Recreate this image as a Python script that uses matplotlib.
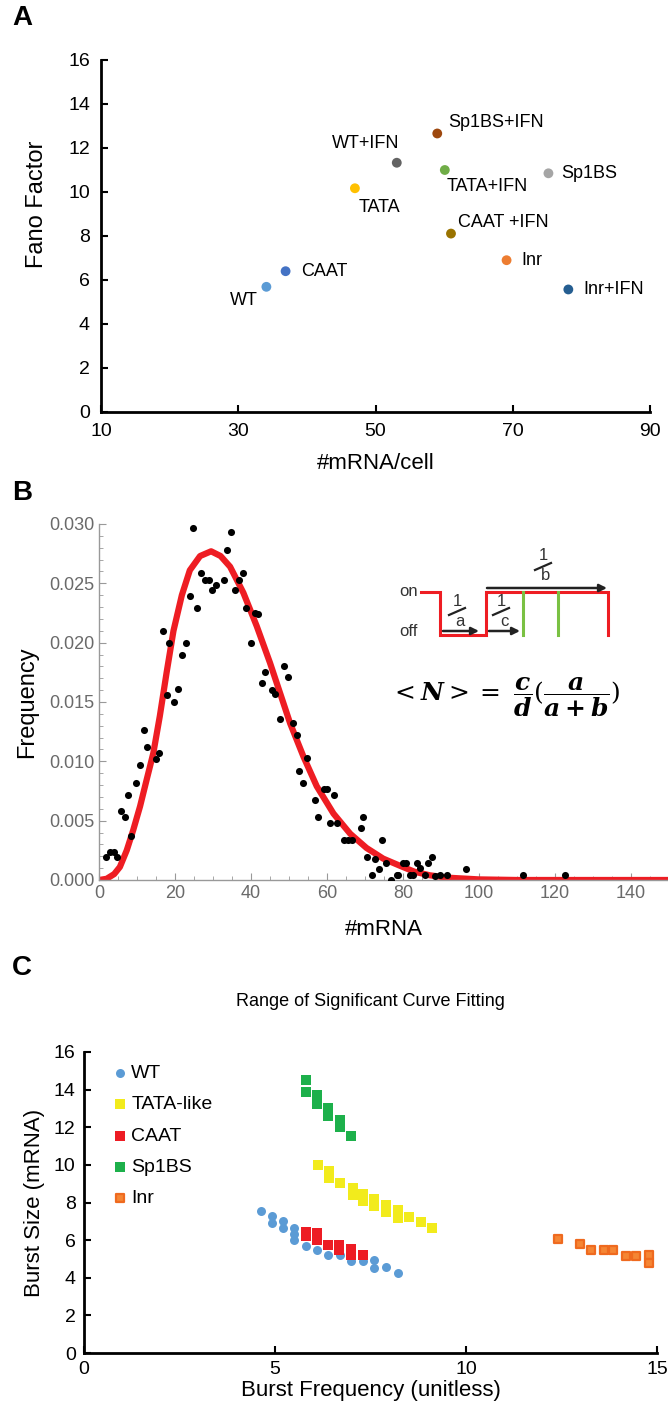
import numpy as np
import matplotlib
matplotlib.use('Agg')
import matplotlib.pyplot as plt

plt.rcParams['font.family'] = ['Liberation Sans', 'DejaVu Sans']
plt.rcParams['mathtext.fontset'] = 'custom'
plt.rcParams['mathtext.rm'] = 'DejaVu Serif'
plt.rcParams['mathtext.bf'] = 'DejaVu Serif:bold:italic'

# ---- panel A: mean vs Fano factor
a_names = ['WT', 'CAAT', 'TATA', 'WT+IFN', 'Sp1BS+IFN', 'TATA+IFN',
           'CAAT +IFN', 'Inr', 'Sp1BS', 'Inr+IFN']
a_mrna = [34.1, 36.9, 47.0, 53.1, 59.0, 60.1, 61.0, 69.1, 75.2, 78.1]
a_fano = [5.69, 6.40, 10.17, 11.33, 12.66, 11.0, 8.11, 6.9, 10.85, 5.57]
a_colors = ['#5B9BD5', '#4472C4', '#FFC000', '#636363', '#9E480E', '#70AD47',
            '#997300', '#ED7D31', '#A5A5A5', '#255E91']
# label offsets in points (dx, dy, ha)
a_offsets = [(-16, -10, 'center'), (11, 0, 'left'), (3, -14, 'left'),
             (2, 14, 'right'), (8, 8, 'left'), (1, -12, 'left'),
             (5, 8, 'left'), (11, 0, 'left'), (9, 0, 'left'), (11, 0, 'left')]

# ---- panel B: mRNA distribution
b_x = [1.8, 2.9, 4.0, 4.8, 5.7, 6.9, 7.7, 8.4, 9.7, 10.9, 11.8, 12.5, 14.9, 15.9,
       16.8, 17.8, 18.5, 19.7, 20.8, 21.8, 22.9, 23.9, 24.7, 25.9, 26.8, 27.9,
       28.9, 29.7, 30.8, 32.9, 33.8, 34.7, 35.8, 36.9, 37.8, 38.6, 39.9, 41.1,
       41.9, 42.8, 43.7, 45.4, 46.3, 47.6, 48.7, 49.8, 51.0, 52.0, 52.7, 53.8,
       54.8, 56.8, 57.7, 59.2, 60.0, 60.8, 61.8, 62.5, 64.5, 65.6, 66.5, 68.9,
       69.6, 70.6, 71.8, 72.6, 73.8, 74.6, 75.5, 76.8, 78.3, 78.8, 80.1, 80.8,
       81.8, 82.7, 83.8, 84.6, 85.8, 86.7, 87.5, 88.4, 89.7, 91.5, 96.6, 111.5,
       122.6]
b_freq = [0.0019, 0.0024, 0.0024, 0.0019, 0.0058, 0.0053, 0.0072, 0.0037, 0.0082,
          0.0097, 0.0126, 0.0112, 0.0102, 0.0107, 0.0210, 0.0156, 0.0200, 0.0150,
          0.0161, 0.0190, 0.0200, 0.0239, 0.0297, 0.0229, 0.0259, 0.0253, 0.0253,
          0.0244, 0.0249, 0.0253, 0.0278, 0.0293, 0.0244, 0.0253, 0.0259, 0.0229,
          0.0200, 0.0225, 0.0224, 0.0166, 0.0175, 0.0160, 0.0157, 0.0136, 0.0180,
          0.0171, 0.0132, 0.0122, 0.0092, 0.0082, 0.0103, 0.0067, 0.0053, 0.0077,
          0.0077, 0.0048, 0.0072, 0.0048, 0.0034, 0.0034, 0.0034, 0.0044, 0.0053,
          0.0019, 0.0004, 0.0018, 0.0009, 0.0034, 0.0014, 0.0000, 0.0004, 0.0004,
          0.0014, 0.0014, 0.0004, 0.0004, 0.0014, 0.0010, 0.0004, 0.0014, 0.0019,
          0.0003, 0.0004, 0.0004, 0.0009, 0.0004, 0.0004]
fit_x = [0, 2, 4, 5.5, 7.3, 9, 10.8, 12.5, 14.3, 16, 17.8, 19.6, 21.8, 23.9, 26.6,
         29.5, 32, 34.5, 38, 41.5, 45, 47.6, 50.3, 53.8, 57.3, 61.7, 66.1, 70.4,
         74.8, 79.2, 83, 87, 91.5, 100, 110, 150]
fit_y = [0.0000, 0.0001, 0.0005, 0.0011, 0.0025, 0.0042, 0.0062, 0.0084, 0.0107,
         0.0138, 0.0175, 0.0210, 0.0240, 0.0261, 0.0273, 0.0277, 0.0273, 0.0264,
         0.0242, 0.0214, 0.0183, 0.0158, 0.0132, 0.0104, 0.0079, 0.0056, 0.0039,
         0.0027, 0.0018, 0.0012, 0.0007, 0.0004, 0.0002, 0.00005, 0.0, 0.0]

# ---- panel C: burst size vs burst frequency
wt_f = [4.63, 4.91, 4.91, 5.2, 5.2, 5.5, 5.5, 5.5, 5.82, 6.1, 6.4, 6.69, 7.0, 7.3,
        7.6, 7.6, 7.9, 8.23]
wt_s = [7.57, 7.27, 6.92, 7.0, 6.65, 6.65, 6.3, 6.0, 5.67, 5.46, 5.2, 5.2, 4.87,
        4.87, 4.92, 4.52, 4.57, 4.25]
tata_f = [6.12, 6.42, 6.42, 6.71, 7.03, 7.03, 7.31, 7.31, 7.6, 7.6, 7.9, 7.9,
          8.23, 8.23, 8.52, 8.82, 9.1]
tata_s = [9.99, 9.65, 9.3, 9.05, 8.75, 8.4, 8.45, 8.1, 8.2, 7.8, 7.85, 7.5, 7.6,
          7.2, 7.24, 6.95, 6.65]
caat_f = [5.82, 5.82, 6.1, 6.1, 6.4, 6.68, 6.68, 7.0, 7.0, 7.3]
caat_s = [6.45, 6.2, 6.4, 6.0, 5.75, 5.75, 5.45, 5.55, 5.2, 5.2]
sp1_f = [5.81, 5.81, 6.1, 6.1, 6.4, 6.4, 6.7, 6.7, 7.0]
sp1_s = [14.5, 13.85, 13.7, 13.25, 13.0, 12.6, 12.4, 12.0, 11.55]
inr_f = [12.4, 12.98, 13.26, 13.6, 13.86, 14.18, 14.46, 14.78, 14.78]
inr_s = [6.08, 5.8, 5.49, 5.49, 5.49, 5.17, 5.17, 5.22, 4.8]

W, H = 668, 1411
fig = plt.figure(figsize=(W / 100, H / 100), dpi=100)


def box(left, top, right, bottom):
    return [left / W, 1 - bottom / H, (right - left) / W, (bottom - top) / H]


# ================= A
axA = fig.add_axes(box(101, 60, 650, 412))
axA.scatter(a_mrna, a_fano, s=50, c=a_colors, zorder=3, linewidths=0)
for name, x, y, (dx, dy, ha) in zip(a_names, a_mrna, a_fano, a_offsets):
    axA.annotate(name, (x, y), xytext=(dx, dy), textcoords='offset points',
                 ha=ha, va='center', fontsize=13)
axA.set_xlim(10, 90)
axA.set_ylim(0, 16)
axA.set_xticks([10, 30, 50, 70, 90])
axA.set_yticks(range(0, 17, 2))
axA.spines[['top', 'right']].set_visible(False)
for s in ['left', 'bottom']:
    axA.spines[s].set_linewidth(2)
axA.tick_params(direction='in', length=5, width=1.5, labelsize=14, pad=8)
axA.set_xlabel('#mRNA/cell', fontsize=16, labelpad=9)
axA.set_ylabel('Fano Factor', fontsize=17)
axA.yaxis.set_label_coords(-0.097, 0.59)
fig.text(12 / W, 1 - 18 / H, 'A', fontsize=20, fontweight='bold', va='center')

# ================= B
axB = fig.add_axes(box(99, 524, 669, 880))
axB.plot(fit_x, fit_y, color='#EE1D23', lw=4.5, zorder=2, solid_capstyle='round')
axB.scatter(b_x, b_freq, s=26, color='black', zorder=3, linewidths=0)
axB.set_xlim(0, 150)
axB.set_ylim(0, 0.030)
axB.set_xticks(range(0, 141, 20))
axB.set_xticks(range(0, 151, 5), minor=True)
axB.set_yticks(np.arange(0, 0.0301, 0.005))
axB.set_yticks(np.arange(0, 0.0301, 0.001), minor=True)
axB.yaxis.set_major_formatter(matplotlib.ticker.FormatStrFormatter('%.3f'))
axB.spines[['top', 'right']].set_visible(False)
for s in ['left', 'bottom']:
    axB.spines[s].set_color('#999999')
    axB.spines[s].set_linewidth(1)
axB.tick_params(which='both', direction='in', color='#999999', labelcolor='#6A6A6A',
                labelsize=13)
axB.tick_params(which='major', length=5)
axB.tick_params(which='minor', length=3)
axB.set_xlabel('#mRNA', fontsize=16, labelpad=12)
axB.set_ylabel('Frequency', fontsize=17, labelpad=8)
fig.text(12 / W, 1 - 493 / H, 'B', fontsize=20, fontweight='bold', va='center')

# ================= C
axC = fig.add_axes(box(84, 1052, 657, 1353))
axC.scatter(wt_f, wt_s, s=42, marker='o', color='#5B9BD5', linewidths=0,
            label='WT', zorder=2)
axC.scatter(tata_f, tata_s, s=42, marker='s', color='#F2EB1C', linewidths=0,
            label='TATA-like', zorder=3)
axC.scatter(caat_f, caat_s, s=42, marker='s', color='#ED1C24', linewidths=0,
            label='CAAT', zorder=3)
axC.scatter(sp1_f, sp1_s, s=42, marker='s', color='#1DB04B', linewidths=0,
            label='Sp1BS', zorder=3)
axC.scatter(inr_f, inr_s, s=36, marker='s', color='#F58634', edgecolors='#EF6A1F',
            linewidths=1.6, label='Inr', zorder=3)
axC.set_xlim(0, 15)
axC.set_ylim(0, 16)
axC.set_xticks([0, 5, 10, 15])
axC.set_yticks(range(0, 17, 2))
axC.spines[['top', 'right']].set_visible(False)
for s in ['left', 'bottom']:
    axC.spines[s].set_linewidth(2)
axC.tick_params(direction='in', length=5, width=1.5, labelsize=14)
axC.tick_params(axis='x', pad=6)
axC.tick_params(axis='y', pad=6)
axC.set_xlabel('Burst Frequency (unitless)', fontsize=16, labelpad=1)
axC.set_ylabel('Burst Size (mRNA)', fontsize=16, labelpad=6)
axC.set_title('Range of Significant Curve Fitting', fontsize=13, pad=33)
axC.legend(loc='upper left', bbox_to_anchor=(0.052, 0.958), frameon=False,
           fontsize=14, handlelength=0.6, handletextpad=0.3, labelspacing=0.70,
           borderpad=0, borderaxespad=0)
fig.text(12 / W, 1 - 968 / H, 'C', fontsize=20, fontweight='bold', va='center')

# ================= inset schematic in panel B (pixel coordinates)
ov = fig.add_axes([0, 0, 1, 1], facecolor='none')
ov.set_xlim(0, W)
ov.set_ylim(H, 0)
ov.axis('off')
ov.text(418, 591, 'on', ha='right', va='center', fontsize=12, color='#333333')
ov.text(418, 632, 'off', ha='right', va='center', fontsize=12, color='#333333')
ov.plot([421, 440, 440, 486, 486, 608, 608], [592, 592, 635, 635, 592, 592, 635],
        color='#EE1D23', lw=2.2, solid_joinstyle='miter')
ov.plot([523, 523], [592, 635], color='#7AC143', lw=2.2)
ov.plot([558, 558], [592, 635], color='#7AC143', lw=2.2)
arrow = dict(arrowstyle='-|>', color='#222222', lw=1.8, mutation_scale=11,
             shrinkA=0, shrinkB=0)
ov.annotate('', xy=(607, 588), xytext=(487, 588), arrowprops=arrow)
ov.annotate('', xy=(479, 631), xytext=(443, 631), arrowprops=arrow)
ov.annotate('', xy=(520, 631), xytext=(489, 631), arrowprops=arrow)
for xc, yc, letter in [(457, 611, 'a'), (501, 611, 'c'), (543, 566, 'b')]:
    ov.text(xc, yc - 10, '1', ha='center', va='center', fontsize=12,
            color='#333333')
    ov.text(xc + 3, yc + 10, letter, ha='center', va='center', fontsize=12,
            color='#333333')
    ov.plot([xc - 8, xc + 8], [yc + 4, yc - 3], color='#222222', lw=1.6)
ov.text(505, 697,
        r'$<\mathbf{N}>=\ \dfrac{\mathbf{c}}{\mathbf{d}}(\dfrac{\mathbf{a}}{\mathbf{a+b}})$',
        ha='center', va='center', fontsize=18)

fig.savefig('out.png', dpi=100)
